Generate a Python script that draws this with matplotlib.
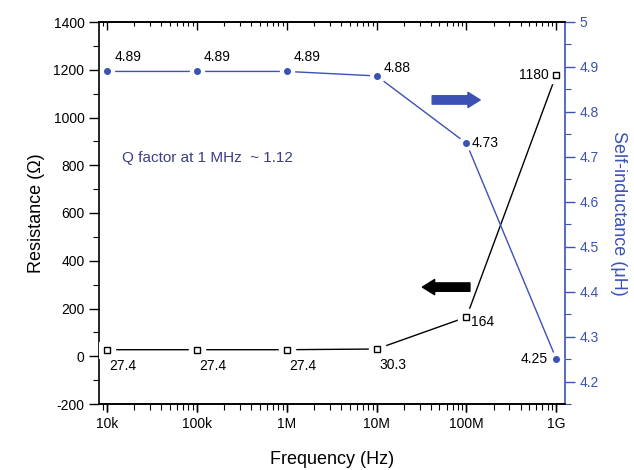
import matplotlib
matplotlib.use("Agg")
import matplotlib.pyplot as plt
from matplotlib.ticker import MultipleLocator, FuncFormatter, FixedLocator, NullFormatter

plt.rcParams["font.family"] = ["Liberation Sans", "DejaVu Sans"]
plt.rcParams["axes.unicode_minus"] = False

freq = [1e4, 1e5, 1e6, 1e7, 1e8, 1e9]
freq_labels = ["10k", "100k", "1M", "10M", "100M", "1G"]
resistance = [27.4, 27.4, 27.4, 30.3, 164, 1180]
res_labels = ["27.4", "27.4", "27.4", "30.3", "164", "1180"]
inductance = [4.89, 4.89, 4.89, 4.88, 4.73, 4.25]
ind_labels = ["4.89", "4.89", "4.89", "4.88", "4.73", "4.25"]

# label offsets in pixels (dx, dy, ha)
res_offsets = [(2, -16, "left"), (2, -16, "left"), (2, -16, "left"), (3, -16, "left"), (5, -5, "left"), (-8, 0, "right")]
ind_offsets = [(7, 14, "left"), (7, 14, "left"), (7, 14, "left"), (7, 8, "left"), (5, 0, "left"), (-9, 0, "right")]

BLUE = "#3b52b4"
XLIM = (8.1e3, 1.25e9)
RECT = [99 / 634, 66 / 470, 466 / 634, 382 / 470]
# log minor tick spots 2..9 per decade
minor_x = [m * 10.0 ** e for e in range(3, 10) for m in range(2, 10)]

fig = plt.figure(figsize=(6.34, 4.70), dpi=100)
ax = fig.add_axes(RECT)
ax2 = ax.twinx()

# resistance (left axis)
ax.plot(freq, resistance, color="black", lw=1.0, zorder=2)
ax.plot(freq, resistance, ls="none", marker="s", ms=11, mfc="white", mec="white", zorder=3)
ax.plot(freq, resistance, ls="none", marker="s", ms=5, mfc="white", mec="black", mew=1.0, zorder=4)
for f, r, lab, (dx, dy, ha) in zip(freq, resistance, res_labels, res_offsets):
    ax.annotate(lab, (f, r), xytext=(dx, dy), textcoords="offset pixels",
                ha=ha, va="center", fontsize=10, color="black")

# self-inductance (right axis)
ax2.plot(freq, inductance, color=BLUE, lw=1.0, zorder=2)
ax2.plot(freq, inductance, ls="none", marker="o", ms=10, mfc="white", mec="white", zorder=3)
ax2.plot(freq, inductance, ls="none", marker="o", ms=4, mfc=BLUE, mec=BLUE, zorder=4)
for f, v, lab, (dx, dy, ha) in zip(freq, inductance, ind_labels, ind_offsets):
    ax2.annotate(lab, (f, v), xytext=(dx, dy), textcoords="offset pixels",
                 ha=ha, va="center", fontsize=10, color="black")

ax.set_xscale("log")
ax.set_xlim(*XLIM)
ax.set_ylim(-200, 1400)
ax2.set_ylim(4.15, 5.0)

ax.xaxis.set_major_locator(FixedLocator(freq))
ax.xaxis.set_major_formatter(FuncFormatter(lambda v, p: freq_labels[freq.index(v)] if v in freq else ""))
ax.tick_params(axis="x", which="major", direction="out", length=6, width=1, top=False, labelsize=10)

ax.yaxis.set_major_locator(MultipleLocator(200))
ax.yaxis.set_minor_locator(MultipleLocator(100))
ax.tick_params(axis="y", which="major", direction="out", length=7, width=1, labelsize=10)
ax.tick_params(axis="y", which="minor", direction="out", length=4, width=0.8)

ax2.yaxis.set_major_locator(MultipleLocator(0.1))
ax2.yaxis.set_minor_locator(MultipleLocator(0.05))
ax2.yaxis.set_major_formatter(FuncFormatter(lambda v, p: "%g" % round(v, 2)))
ax2.tick_params(axis="y", which="major", direction="out", length=7, width=1,
                colors=BLUE, labelsize=10)
ax2.tick_params(axis="y", which="minor", direction="out", length=4, width=0.8, colors=BLUE)

ax.set_xlabel("Frequency (Hz)", fontsize=13, labelpad=14)
ax.set_ylabel("Resistance (\u03a9)", fontsize=13, labelpad=6)
ax2.set_ylabel("Self-inductance (\u03bcH)", fontsize=13, color=BLUE, rotation=-90, labelpad=20)

for a in (ax, ax2):
    for s in a.spines.values():
        s.set_linewidth(1.2)
ax2.spines["right"].set_color(BLUE)
ax2.spines["left"].set_visible(False)
ax.spines["right"].set_visible(False)

# direction arrows
ax2.annotate("", xy=(0.818, 0.796), xytext=(0.715, 0.796), xycoords="axes fraction",
             arrowprops=dict(arrowstyle="simple,head_length=0.8,head_width=1.0,tail_width=0.55",
                             color=BLUE, mutation_scale=11, shrinkA=0, shrinkB=0))
ax2.annotate("", xy=(0.694, 0.306), xytext=(0.796, 0.306), xycoords="axes fraction",
             arrowprops=dict(arrowstyle="simple,head_length=0.8,head_width=1.0,tail_width=0.55",
                             color="black", mutation_scale=11, shrinkA=0, shrinkB=0))

ax2.text(0.049, 0.644, "Q factor at 1 MHz  ~ 1.12", transform=ax2.transAxes,
         fontsize=11, color="#3a4080", ha="left", va="center")


def tick_overlay(side, direction):
    # bare log axes on top of the plot that only carries x tick marks
    o = fig.add_axes(RECT, label="ticks_" + side)
    o.set_xscale("log")
    o.set_xlim(*XLIM)
    o.patch.set_visible(False)
    for s in o.spines.values():
        s.set_visible(False)
    o.yaxis.set_visible(False)
    o.xaxis.set_major_locator(FixedLocator(freq))
    o.xaxis.set_minor_locator(FixedLocator(minor_x))
    o.xaxis.set_major_formatter(NullFormatter())
    o.xaxis.set_minor_formatter(NullFormatter())
    o.tick_params(axis="x", which="both", direction=direction,
                  bottom=(side == "bottom"), top=(side == "top"),
                  labelbottom=False, labeltop=False)
    o.tick_params(axis="x", which="major", length=6, width=1)
    o.tick_params(axis="x", which="minor", length=4 if direction == "out" else 3, width=0.8)
    return o


tick_overlay("bottom", "out")
tick_overlay("top", "in")

fig.savefig("out.png", dpi=100)
